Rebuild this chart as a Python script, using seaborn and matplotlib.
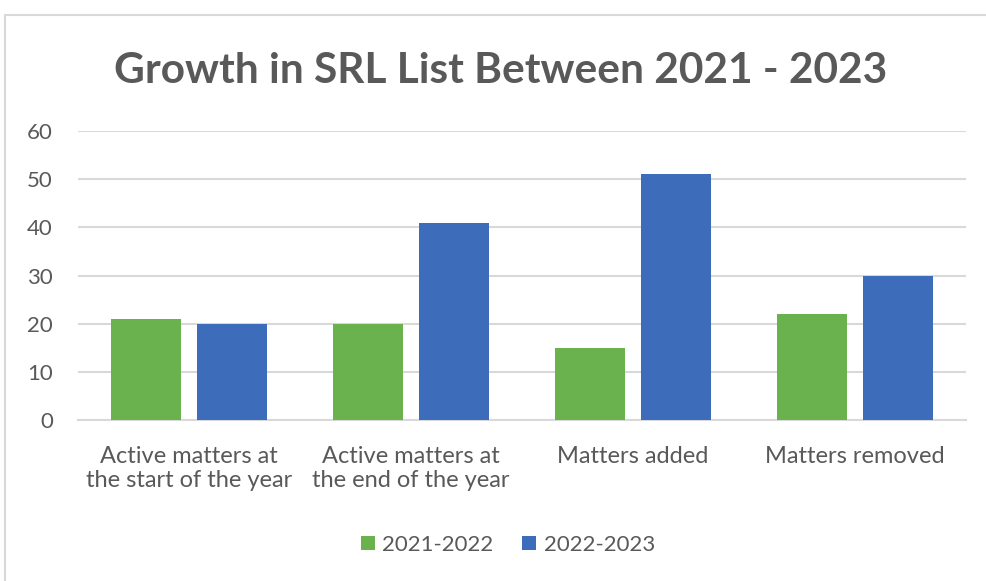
import matplotlib
matplotlib.use("Agg")
import matplotlib.pyplot as plt
import matplotlib.lines as mlines
import seaborn as sns
import pandas as pd

categories = ["Active matters at\nthe start of the year",
              "Active matters at\nthe end of the year",
              "Matters added",
              "Matters removed"]
series_names = ["2021-2022", "2022-2023"]
values_2021_2022 = [21, 20, 15, 22]
values_2022_2023 = [20, 41, 51, 30]
yticks = [0, 10, 20, 30, 40, 50, 60]
title = "Growth in SRL List Between 2021 - 2023"

df = pd.DataFrame({
    "category": categories * 2,
    "period": [series_names[0]] * 4 + [series_names[1]] * 4,
    "value": values_2021_2022 + values_2022_2023,
})

sns.set_theme(style="white")
plt.rcParams["font.family"] = ["Lato", "DejaVu Sans"]

W, H = 987, 581
fig = plt.figure(figsize=(W / 100, H / 100), dpi=100)
ax = fig.add_axes([78 / W, 1 - 420 / H, (966 - 78) / W, (420 - 131) / H])

palette = {series_names[0]: "#6ab24e", series_names[1]: "#3d6cbb"}
sns.barplot(data=df, x="category", y="value", hue="period", palette=palette,
            width=0.766, gap=0.177, ax=ax, saturation=1, legend=True,
            linewidth=0, zorder=3)

ax.set_xlim(-0.5, 3.5)
ax.set_ylim(0, 60)
ax.set_yticks(yticks)
ax.yaxis.grid(True, color="#d9d9d9", linewidth=1.5, zorder=0)
ax.set_axisbelow(True)
for s in ["top", "right", "left"]:
    ax.spines[s].set_visible(False)
ax.spines["bottom"].set_color("#d9d9d9")
ax.spines["bottom"].set_linewidth(1.5)
ax.set_xlabel("")
ax.set_ylabel("")
ax.tick_params(axis="y", length=0, pad=18, labelsize=16, labelcolor="#595959")
ax.tick_params(axis="x", length=0, pad=19, labelsize=17, labelcolor="#595959")
for lbl in ax.get_xticklabels():
    lbl.set_linespacing(1.15)

leg = ax.legend(loc="center", bbox_to_anchor=((508 - 78) / (966 - 78), 1 - (545 - 131) / (420 - 131)),
                ncol=2, frameon=False, fontsize=16, handlelength=0.6, handleheight=0.6,
                handletextpad=0.35, columnspacing=1.3, labelcolor="#595959")

fig.text(501 / W, 1 - 71 / H, title, ha="center", va="center", fontsize=30.5,
         fontweight="bold", color="#595959")

fig.add_artist(mlines.Line2D([5 / W, 1], [1 - 15 / H, 1 - 15 / H],
                             transform=fig.transFigure, color="#d9d9d9", linewidth=1.5))
fig.add_artist(mlines.Line2D([5 / W, 5 / W], [0, 1 - 15 / H],
                             transform=fig.transFigure, color="#d9d9d9", linewidth=1.5))

fig.savefig("out.png", dpi=100, facecolor="white")
